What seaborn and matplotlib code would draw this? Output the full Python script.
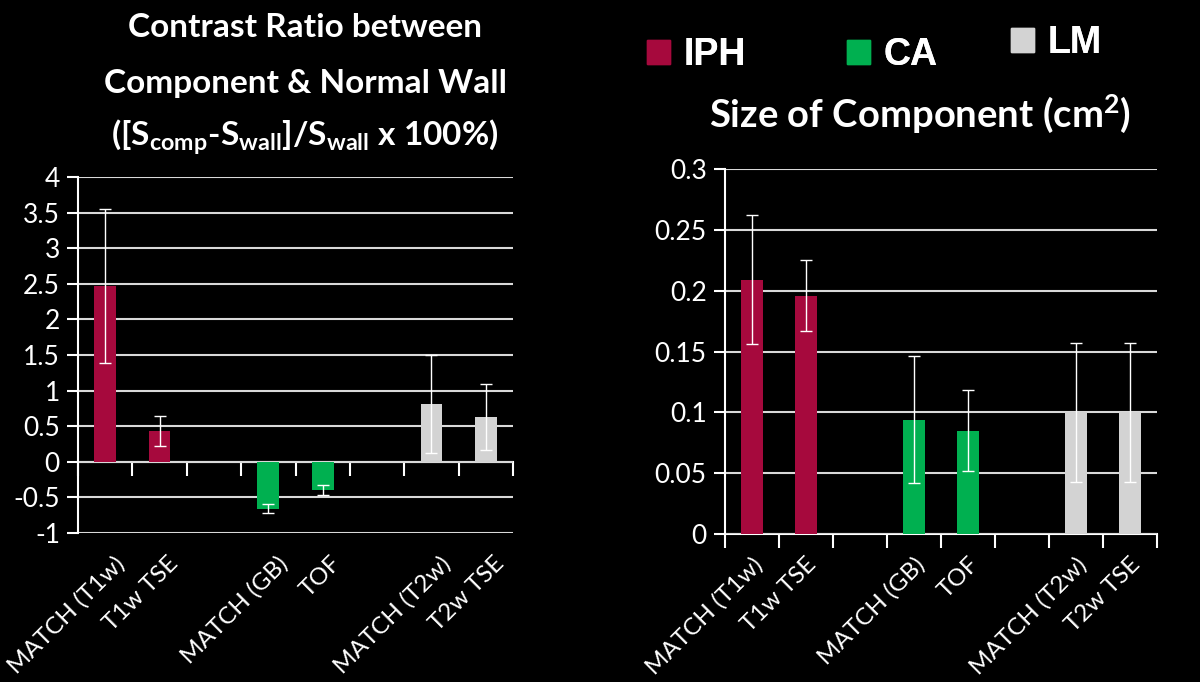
import numpy as np
import pandas as pd
import matplotlib
matplotlib.use('Agg')
import matplotlib.pyplot as plt
import matplotlib.transforms as mtransforms
import seaborn as sns
from matplotlib.ticker import FuncFormatter

# data
methods = ['MATCH (T1w)', 'T1w TSE', 'MATCH (GB)', 'TOF', 'MATCH (T2w)', 'T2w TSE']
groups = ['IPH', 'IPH', 'CA', 'CA', 'LM', 'LM']
order = ['MATCH (T1w)', 'T1w TSE', ' ', 'MATCH (GB)', 'TOF', '  ', 'MATCH (T2w)', 'T2w TSE']

contrast = [2.47, 0.43, -0.66, -0.39, 0.81, 0.63]
contrast_err = [1.08, 0.21, 0.065, 0.07, 0.69, 0.46]

size = [0.209, 0.196, 0.094, 0.085, 0.100, 0.100]
size_err = [0.053, 0.029, 0.052, 0.033, 0.057, 0.057]

palette = {'IPH': '#A6093D', 'CA': '#00B050', 'LM': '#D3D3D3'}

sns.set_style('dark')
plt.rcParams['font.family'] = ['Lato', 'DejaVu Sans']
plt.rcParams['mathtext.default'] = 'regular'

fig = plt.figure(figsize=(12, 6.82), dpi=100, facecolor='black')
ax1 = fig.add_axes([0.065, 0.2185, 0.3625, 0.522])
ax2 = fig.add_axes([0.604, 0.217, 0.360, 0.535])


def draw(ax, vals, errs, ylim, step, zero_frac, dx):
    df = pd.DataFrame({'method': methods, 'value': vals, 'group': groups})
    sns.barplot(data=df, x='method', y='value', hue='group', order=order,
                palette=palette, dodge=False, width=0.4, errorbar=None,
                saturation=1, linewidth=0, edgecolor='none', ax=ax)
    xs = [order.index(m) for m in methods]
    ax.errorbar(xs, vals, yerr=errs, fmt='none', ecolor='white',
                elinewidth=1, capsize=4, capthick=1)
    ax.set_facecolor('black')
    ax.set_xlim(-0.5, len(order) - 0.5)
    ax.set_ylim(*ylim)
    ax.set_yticks(np.arange(ylim[0], ylim[1] + step / 2, step))
    ax.yaxis.set_major_formatter(FuncFormatter(lambda v, p: '{:g}'.format(round(v, 3))))
    ax.grid(axis='y', color='#d9d9d9', lw=1.5)
    ax.grid(axis='x', visible=False)
    ax.set_axisbelow(True)
    for s in ['top', 'right', 'bottom']:
        ax.spines[s].set_visible(False)
    ax.spines['left'].set_color('white')
    ax.spines['left'].set_linewidth(1.5)
    ax.tick_params(axis='y', colors='white', labelsize=19, length=8, width=1.5, left=True, pad=5)
    ax.tick_params(axis='x', colors='white', labelsize=17.5, length=0, pad=14)
    ax.set_xlabel('')
    ax.set_ylabel('')
    labels = [t.get_text() for t in ax.get_xticklabels()]
    ax.set_xticks(range(len(order)))
    ax.set_xticklabels(labels, rotation=45, ha='right', rotation_mode='anchor')
    shift = mtransforms.ScaledTranslation(dx, 0, fig.dpi_scale_trans)
    for t in ax.get_xticklabels():
        t.set_transform(t.get_transform() + shift)
    # x axis line with boundary ticks
    sec = ax.secondary_xaxis(zero_frac)
    sec.set_xticks(np.arange(-0.5, len(order), 1))
    sec.tick_params(length=10, width=1.5, colors='white', labelbottom=False, direction='out')
    sec.spines['bottom'].set_color('white')
    sec.spines['bottom'].set_linewidth(1.5)
    leg = ax.get_legend()
    if leg is not None:
        leg.remove()


draw(ax1, contrast, contrast_err, (-1, 4), 0.5, 0.2, 0.08)
draw(ax2, size, size_err, (0, 0.3), 0.05, 0.0, 0.0)

# titles
tkw = dict(color='white', fontsize=24, fontweight='bold', ha='center', va='baseline')
fig.text(305 / 1200, 1 - 37 / 682, 'Contrast Ratio between', **tkw)
fig.text(305 / 1200, 1 - 93 / 682, 'Component & Normal Wall', **tkw)
fig.text(305 / 1200, 1 - 146 / 682, '([S$_{comp}$-S$_{wall}$]/S$_{wall}$ x 100%)', **tkw)
tkw['fontsize'] = 27.5
fig.text(920 / 1200, 1 - 127 / 682, 'Size of Component (cm$^{2}$)', **tkw)

# legend, one entry each (LM sits a little higher)
leg_pos = {'IPH': (647, 55), 'CA': (847, 55), 'LM': (1011, 43)}
for g in ['IPH', 'CA', 'LM']:
    px, py = leg_pos[g]
    lg = fig.legend([plt.Rectangle((0, 0), 1, 1, color=palette[g])], [g],
                    loc='center left', bbox_to_anchor=(px / 1200, 1 - py / 682),
                    frameon=False, borderpad=0, borderaxespad=0,
                    prop={'family': 'Liberation Sans', 'size': 27, 'weight': 'bold'},
                    labelcolor='white', handlelength=0.6, handleheight=0.6,
                    handletextpad=0.38)
    fig.add_artist(lg)

fig.savefig('out.png', dpi=100, facecolor='black')
